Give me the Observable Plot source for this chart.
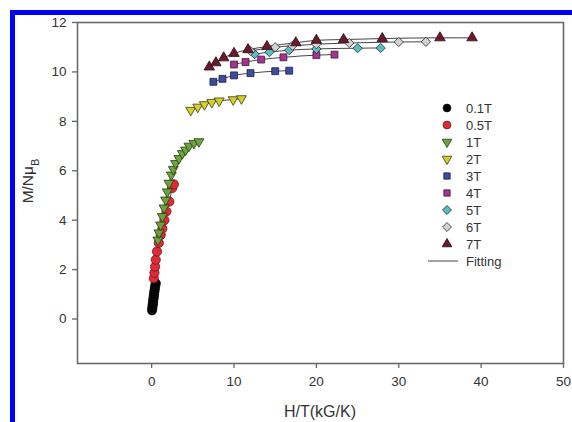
<!DOCTYPE html>
<html>
<head>
<meta charset="utf-8">
<script src="https://cdn.jsdelivr.net/npm/d3@7"></script>
<script src="https://cdn.jsdelivr.net/npm/@observablehq/plot@0.6"></script>
<style>
  html, body { margin: 0; padding: 0; background: #fff; }
  #wrap { position: relative; width: 572px; height: 422px; overflow: hidden; }
  .bar { position: absolute; background: #0000ff; }
</style>
</head>
<body>
<div id="wrap"></div>
<script>
// ---- data ----
const seriesNames = ["0.1T", "0.5T", "1T", "2T", "3T", "4T", "5T", "6T", "7T"];

const x01 = [0.05, 0.08, 0.11, 0.14, 0.17, 0.2, 0.23, 0.26, 0.29, 0.32, 0.36, 0.4, 0.45, 0.5];
const y01 = [0.35, 0.43, 0.52, 0.6, 0.68, 0.76, 0.84, 0.92, 1.0, 1.08, 1.17, 1.26, 1.36, 1.45];

const x05 = [0.26, 0.34, 0.42, 0.5, 0.65, 0.87, 1.1, 1.3, 1.55, 1.8, 2.15, 2.5, 2.7];
const y05 = [1.65, 1.87, 2.12, 2.4, 2.73, 3.08, 3.4, 3.65, 4.0, 4.35, 4.75, 5.3, 5.45];

const x1 = [0.76, 0.89, 1.09, 1.3, 1.5, 1.7, 1.9, 2.1, 2.39, 2.63, 2.91, 3.31, 3.73, 4.13, 4.53, 5.13, 5.74];
const y1 = [3.2, 3.49, 3.81, 4.15, 4.5, 4.82, 5.15, 5.5, 5.83, 6.06, 6.3, 6.5, 6.7, 6.84, 7.0, 7.11, 7.18];

const x2 = [4.75, 5.6, 6.4, 7.3, 8.2, 9.9, 10.9];
const y2 = [8.45, 8.58, 8.68, 8.77, 8.83, 8.88, 8.92];

const x3 = [7.5, 8.6, 10, 12, 15, 16.7];
const y3 = [9.6, 9.72, 9.86, 9.95, 10.03, 10.05];

const x4 = [10, 11.4, 13.3, 16, 20, 22.2];
const y4 = [10.3, 10.4, 10.5, 10.59, 10.68, 10.7];

const x5 = [12.5, 14.3, 16.7, 20, 25, 27.8];
const y5 = [10.72, 10.8, 10.88, 10.93, 10.96, 10.97];

const x6 = [12, 15, 17.1, 20, 24, 30, 33.3];
const y6 = [10.85, 11.0, 11.06, 11.12, 11.17, 11.21, 11.22];

const x7 = [7, 7.8, 8.75, 10, 11.7, 14, 17.5, 20, 23.3, 28, 35, 38.9];
const y7 = [10.2, 10.37, 10.57, 10.75, 10.9, 11.03, 11.18, 11.28, 11.31, 11.35, 11.38, 11.38];

const xTicks = [0, 10, 20, 30, 40, 50];
const yTicks = [0, 2, 4, 6, 8, 10, 12];
const fitLabel = "Fitting";

// ---- styles per series ----
const styles = {
  "0.1T": {symbol: "circle",   rotate: 0,   fill: "#000000", stroke: "#111111", r: 4.6},
  "0.5T": {symbol: "circle",   rotate: 0,   fill: "#e02a36", stroke: "#6a1a1a", r: 4.6},
  "1T":   {symbol: "triangle", rotate: 180, fill: "#6aa43a", stroke: "#2a3a1a", r: 3.7},
  "2T":   {symbol: "triangle", rotate: 180, fill: "#d4d02a", stroke: "#3a3a1a", r: 3.7},
  "3T":   {symbol: "square",   rotate: 0,   fill: "#3c4ca2", stroke: "#1a2040", r: 3.9},
  "4T":   {symbol: "square",   rotate: 0,   fill: "#a8338e", stroke: "#401a38", r: 3.9},
  "5T":   {symbol: "square",   rotate: 45,  fill: "#5cbcc4", stroke: "#1a3a40", r: 3.7},
  "6T":   {symbol: "square",   rotate: 45,  fill: "#d2d2d2", stroke: "#333333", r: 3.7},
  "7T":   {symbol: "triangle", rotate: 0,   fill: "#6a1a2c", stroke: "#2a0a10", r: 3.9}
};

const xs = [x01, x05, x1, x2, x3, x4, x5, x6, x7];
const ys = [y01, y05, y1, y2, y3, y4, y5, y6, y7];
const data = [];
seriesNames.forEach((s, i) => xs[i].forEach((x, j) => data.push({series: s, x, y: ys[i][j]})));

const dotMarks = seriesNames.map(s => Plot.dot(data.filter(d => d.series === s), {
  x: "x", y: "y",
  symbol: styles[s].symbol, rotate: styles[s].rotate, r: styles[s].r,
  fill: styles[s].fill, stroke: styles[s].stroke, strokeWidth: 0.8
}));

const plot = Plot.plot({
  width: 572, height: 422,
  marginLeft: 77, marginRight: 9, marginTop: 22, marginBottom: 59,
  x: {domain: [-9, 50]},
  y: {domain: [-1.8, 12]},
  style: {fontFamily: "'Liberation Sans', Arial, sans-serif", fontSize: "13.5px", color: "#333", background: "transparent", overflow: "visible"},
  marks: [
    Plot.axisX({ticks: xTicks, tickSize: 5, tickPadding: 8, label: null, stroke: "#666", strokeWidth: 1.3}),
    Plot.axisY({ticks: yTicks, tickSize: 5, tickPadding: 6, label: null, stroke: "#666", strokeWidth: 1.3}),
    Plot.line(data.filter(d => d.series !== "0.1T"), {x: "x", y: "y", z: "series", stroke: "#444", strokeWidth: 1, curve: "monotone-x"}),
    ...dotMarks,
    Plot.frame({stroke: "#6a6a6a", strokeWidth: 1.6})
  ]
});

const wrap = document.getElementById("wrap");
wrap.appendChild(plot);

// axis titles and legend drawn into the SVG
const svg = d3.select(plot);
svg.append("text")
  .attr("x", 320).attr("y", 417)
  .attr("text-anchor", "middle")
  .attr("font-family", "'Liberation Sans', Arial, sans-serif")
  .attr("font-size", 16).attr("fill", "#333")
  .text("H/T(kG/K)");

const yl = svg.append("text")
  .attr("transform", "translate(33,181) rotate(-90)")
  .attr("text-anchor", "middle")
  .attr("font-family", "'Liberation Sans', Arial, sans-serif")
  .attr("font-size", 15.5).attr("fill", "#333");
yl.append("tspan").text("M/Nμ");
yl.append("tspan").attr("baseline-shift", "sub").attr("font-size", 11).text("B");

const symMap = {circle: d3.symbolCircle, triangle: d3.symbolTriangle, square: d3.symbolSquare};
const lg = svg.append("g")
  .attr("font-family", "'Liberation Sans', Arial, sans-serif")
  .attr("font-size", 13).attr("fill", "#333").attr("text-anchor", "start");
const lx = 447, ly0 = 108, dy = 17;
seriesNames.forEach((s, i) => {
  const st = styles[s];
  const yy = ly0 + i * dy;
  lg.append("path")
    .attr("d", d3.symbol(symMap[st.symbol], st.symbol === "circle" ? 48 : 40)())
    .attr("transform", `translate(${lx},${yy}) rotate(${st.rotate})`)
    .attr("fill", st.fill).attr("stroke", st.stroke).attr("stroke-width", 0.8);
  lg.append("text").attr("x", 466).attr("y", yy).attr("dy", "0.36em").attr("text-anchor", "start").text(s);
});
const fy = ly0 + seriesNames.length * dy;
lg.append("line").attr("x1", 428).attr("x2", 458).attr("y1", fy).attr("y2", fy).attr("stroke", "#444").attr("stroke-width", 1);
lg.append("text").attr("x", 466).attr("y", fy).attr("dy", "0.36em").attr("text-anchor", "start").text(fitLabel);

// blue border (top and left)
plot.style.position = "absolute";
plot.style.left = "0px";
plot.style.top = "0px";
const barTop = document.createElement("div");
barTop.className = "bar";
Object.assign(barTop.style, {left: "10px", top: "10px", width: "562px", height: "5px"});
const barLeft = document.createElement("div");
barLeft.className = "bar";
Object.assign(barLeft.style, {left: "10px", top: "10px", width: "5px", height: "412px"});
wrap.appendChild(barTop);
wrap.appendChild(barLeft);
</script>
</body>
</html>
